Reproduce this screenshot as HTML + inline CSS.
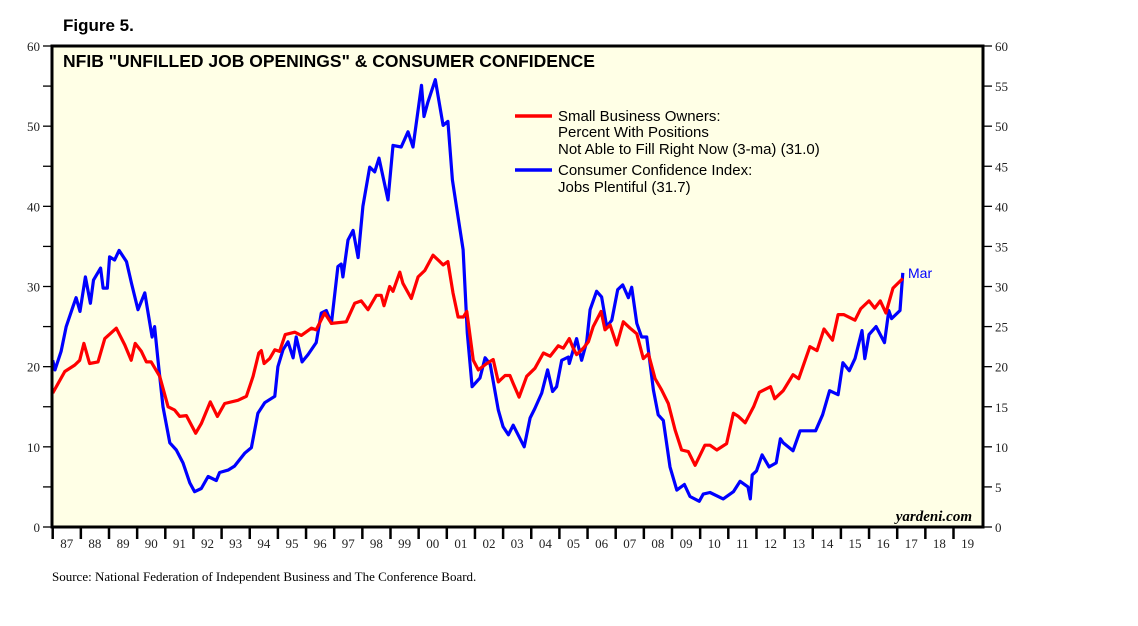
<!DOCTYPE html>
<html><head><meta charset="utf-8"><style>
body{margin:0;background:#fff;width:1138px;height:621px;overflow:hidden}
svg text{font-family:"Liberation Sans",sans-serif}
</style></head><body>
<svg id="chart" width="1138" height="621" xmlns="http://www.w3.org/2000/svg">
<text x="63" y="31" font-size="17" font-weight="bold">Figure 5.</text>
<rect x="52" y="46" width="931" height="481" fill="#FFFFE6"/>
<g id="axes"></g>
<g id="series"></g>
<rect x="52" y="46" width="931" height="481" fill="none" stroke="#000" stroke-width="3"/>
<text x="63" y="67" font-size="17.5" font-weight="bold">NFIB "UNFILLED JOB OPENINGS" &amp; CONSUMER CONFIDENCE</text>
<g font-size="15">
<line x1="515" y1="116" x2="552" y2="116" stroke="#f00" stroke-width="3.5"/>
<text x="558" y="121"><tspan x="558">Small Business Owners:</tspan><tspan x="558" dy="16">Percent With Positions</tspan><tspan x="558" dy="17">Not Able to Fill Right Now (3-ma) (31.0)</tspan></text>
<line x1="515" y1="170" x2="552" y2="170" stroke="#00f" stroke-width="3.5"/>
<text x="558" y="175"><tspan x="558">Consumer Confidence Index:</tspan><tspan x="558" dy="17">Jobs Plentiful (31.7)</tspan></text>
</g>
<text x="908" y="278" font-size="14" fill="#00f">Mar</text>
<text x="972" y="521" font-size="15" font-style="italic" font-weight="bold" text-anchor="end" style="font-family:'Liberation Serif',serif">yardeni.com</text>
<text x="52" y="581" font-size="13" style="font-family:'Liberation Serif',serif">Source: National Federation of Independent Business and The Conference Board.</text>
</svg>
<script>
const yTicks=[0,10,20,30,40,50,60];
const yTicksRight=[0,5,10,15,20,25,30,35,40,45,50,55,60];
const yearLabels=["87","88","89","90","91","92","93","94","95","96","97","98","99","00","01","02","03","04","05","06","07","08","09","10","11","12","13","14","15","16","17","18","19"];
const blueDates=[1987.0,1987.08,1987.3,1987.48,1987.72,1987.83,1987.97,1988.16,1988.34,1988.45,1988.7,1988.79,1988.94,1989.02,1989.2,1989.36,1989.62,1989.8,1990.03,1990.27,1990.39,1990.53,1990.62,1990.74,1990.92,1991.16,1991.39,1991.63,1991.87,1992.04,1992.28,1992.52,1992.81,1992.93,1993.23,1993.46,1993.82,1994.06,1994.29,1994.53,1994.89,1995.0,1995.18,1995.36,1995.54,1995.65,1995.86,1996.07,1996.36,1996.54,1996.72,1996.9,1997.13,1997.25,1997.31,1997.49,1997.67,1997.85,1998.02,1998.26,1998.44,1998.59,1998.91,1999.09,1999.38,1999.62,1999.8,2000.1,2000.19,2000.33,2000.59,2000.87,2001.04,2001.2,2001.34,2001.58,2001.73,2001.9,2002.18,2002.36,2002.54,2002.83,2003.0,2003.19,2003.36,2003.75,2003.96,2004.13,2004.37,2004.58,2004.76,2004.9,2005.08,2005.32,2005.35,2005.61,2005.79,2005.97,2006.09,2006.32,2006.5,2006.68,2006.86,2007.07,2007.25,2007.45,2007.57,2007.75,2007.92,2008.1,2008.34,2008.51,2008.69,2008.93,2009.17,2009.44,2009.64,2009.97,2010.11,2010.35,2010.82,2011.18,2011.42,2011.7,2011.78,2011.85,2012.0,2012.2,2012.45,2012.7,2012.85,2012.95,2013.3,2013.55,2014.1,2014.35,2014.6,2014.9,2015.07,2015.3,2015.5,2015.75,2015.85,2016.0,2016.25,2016.55,2016.7,2016.8,2017.1,2017.2];
const blueVals=[20.8,19.6,21.9,25,27.5,28.6,26.9,31.2,27.9,30.8,32.3,29.8,29.8,33.7,33.3,34.5,33.1,30.4,27.1,29.2,26.7,23.7,25,20.8,15,10.5,9.6,8,5.5,4.4,4.8,6.3,5.8,6.8,7.1,7.6,9.2,9.9,14.2,15.5,16.3,20,22.1,23.1,21.1,23.7,20.6,21.5,23,26.7,27,25.4,32.5,32.8,31.2,35.8,37,33.6,40,44.9,44.3,46,40.8,47.6,47.4,49.3,47.4,55.1,51.2,53,55.8,50.1,50.6,43.3,40,34.6,24.2,17.5,18.6,21.1,20.3,14.6,12.5,11.5,12.7,10,13.6,14.8,16.7,19.6,16.9,17.5,20.8,21.2,20.4,23.5,20.8,23.1,27.1,29.4,28.7,25,25.8,29.6,30.2,28.6,29.9,25.4,23.7,23.7,17.1,14,13.3,7.5,4.6,5.3,3.8,3.2,4.1,4.3,3.5,4.4,5.7,5,3.5,6.5,7,9,7.5,8,11,10.5,9.5,12,12,14,17,16.5,20.5,19.5,21,24.5,21,24,25,23,27,26,27,31.7];
const redDates=[1987.0,1987.43,1987.78,1987.96,1988.11,1988.31,1988.61,1988.85,1989.26,1989.56,1989.79,1989.93,1990.15,1990.33,1990.5,1990.8,1991.1,1991.33,1991.51,1991.75,1992.08,1992.28,1992.6,1992.85,1993.11,1993.58,1993.88,1994.12,1994.32,1994.41,1994.51,1994.71,1994.89,1995.06,1995.26,1995.6,1995.83,1996.19,1996.36,1996.66,1996.9,1997.43,1997.73,1997.96,1998.2,1998.5,1998.67,1998.77,1998.97,1999.09,1999.33,1999.44,1999.74,1999.98,2000.22,2000.51,2000.75,2000.87,2001.04,2001.22,2001.4,2001.59,2001.71,2001.94,2002.12,2002.42,2002.65,2002.83,2003.07,2003.24,2003.36,2003.57,2003.84,2004.13,2004.43,2004.67,2004.96,2005.14,2005.35,2005.49,2005.61,2005.85,2006.03,2006.2,2006.48,2006.62,2006.8,2007.04,2007.27,2007.51,2007.75,2007.98,2008.16,2008.4,2008.63,2008.87,2009.11,2009.34,2009.58,2009.82,2010.17,2010.35,2010.59,2010.94,2011.18,2011.36,2011.6,2011.9,2012.1,2012.5,2012.65,2012.95,2013.3,2013.5,2013.9,2014.15,2014.4,2014.7,2014.9,2015.1,2015.5,2015.7,2016.0,2016.2,2016.4,2016.6,2016.85,2017.2];
const redVals=[16.7,19.4,20.2,20.8,22.9,20.4,20.6,23.5,24.8,22.7,20.8,22.9,21.9,20.6,20.6,18.8,15,14.6,13.8,13.9,11.7,12.9,15.6,13.8,15.4,15.8,16.3,18.8,21.7,22,20.4,21,22.1,21.9,24,24.3,23.9,24.8,24.6,26.7,25.4,25.6,27.9,28.2,27.1,28.9,28.9,27.6,30,29.4,31.8,30.4,28.5,31.2,32,33.9,33.1,32.7,33.1,29.2,26.2,26.2,26.9,20.8,19.6,20.4,20.9,18.1,18.9,18.9,17.9,16.2,18.8,19.8,21.7,21.3,22.6,22.3,23.5,22.3,21.5,22.3,23.1,25,26.9,24.6,25.2,22.7,25.6,24.8,24.1,21,21.6,18.5,17.1,15.4,12.1,9.6,9.4,7.7,10.2,10.2,9.6,10.4,14.2,13.8,13,15,16.8,17.5,16,17,19,18.5,22.5,22,24.7,23.3,26.5,26.5,25.8,27.2,28.2,27.3,28.2,26.7,29.8,31.0];

const X0=52.7,YW=28.15,YB=527,YS=481/60;
const xs=yr=>X0+(yr-1987)*YW;
const ys=v=>YB-v*YS;
const NS="http://www.w3.org/2000/svg";
const axes=document.getElementById('axes'),series=document.getElementById('series');
function mk(tag,attrs,parent){const e=document.createElementNS(NS,tag);for(const k in attrs)e.setAttribute(k,attrs[k]);parent.appendChild(e);return e;}
yTicksRight.forEach(v=>{
  const l=mk('line',{x1:43,x2:52,y1:ys(v),y2:ys(v),stroke:'#000','stroke-width':1.3},axes);
  
  
  const r=mk('line',{x1:983,x2:992,y1:ys(v),y2:ys(v),stroke:'#000','stroke-width':1.3},axes);
  
  
  const t=mk('text',{x:995,y:ys(v)+5,'font-size':13,fill:'#222',style:"font-family:'Liberation Serif',serif"},axes);
  t.textContent=v;
  
  
});
yTicks.forEach(v=>{
  const t=mk('text',{x:40,y:ys(v)+5,'font-size':13,fill:'#222','text-anchor':'end',style:"font-family:'Liberation Serif',serif"},axes);
  t.textContent=v;
  
  
});
yearLabels.forEach((lab,i)=>{
  const l=mk('line',{x1:xs(1987+i),x2:xs(1987+i),y1:527,y2:539,stroke:'#000','stroke-width':2.5},axes);
  
  
  const t=mk('text',{x:xs(1987+i+0.5),y:548,'font-size':13,fill:'#222','text-anchor':'middle',style:"font-family:'Liberation Serif',serif"},axes);
  t.textContent=lab;
  
  
});
function line(d,v,col,name){
  const n=Math.min(d.length,v.length);
  const pts=[];
  for(let i=0;i<n;i++)pts.push(xs(d[i]).toFixed(1)+','+ys(v[i]).toFixed(1));
  const p=mk('polyline',{points:pts.join(' '),fill:'none',stroke:col,'stroke-width':3.2,'stroke-linejoin':'round'},series);
  
  
}
line(blueDates,blueVals,'#0000ff','confidence-line');
line(redDates,redVals,'#ff0000','nfib-line');
</script>
</body></html>
